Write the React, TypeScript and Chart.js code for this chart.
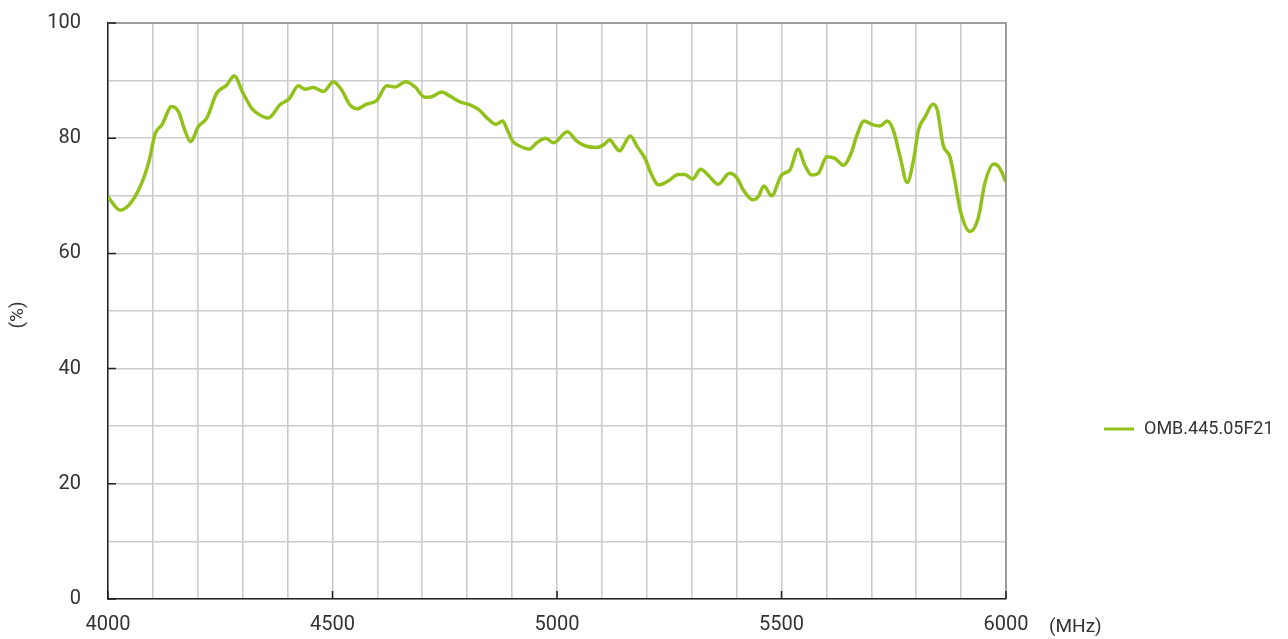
import React, { useEffect, useRef } from "react";
import { Chart, registerables } from "chart.js";

Chart.register(...registerables);

const seriesName = "OMB.445.05F21";
const freqMHz = [
  4000, 4027, 4053, 4079, 4092, 4105, 4120, 4142, 4157, 4171, 4184, 4201, 4220, 4242, 4264, 4281,
  4301, 4320, 4331, 4357, 4383, 4404, 4424, 4439, 4457, 4480, 4502, 4520, 4539, 4554, 4576, 4598,
  4621, 4639, 4663, 4684, 4706, 4721, 4743, 4762, 4784, 4806, 4825, 4847, 4864, 4879, 4888, 4901,
  4918, 4938, 4955, 4975, 4992, 5023, 5044, 5066, 5088, 5103, 5118, 5129, 5140, 5151, 5163, 5179,
  5196, 5211, 5226, 5248, 5270, 5285, 5302, 5320, 5339, 5359, 5384, 5400, 5415, 5436, 5448, 5461,
  5478, 5500, 5519, 5537, 5552, 5567, 5582, 5601, 5619, 5638, 5656, 5667, 5684, 5701, 5719, 5736,
  5749, 5764, 5780, 5794, 5805, 5820, 5837, 5847, 5860, 5875, 5886, 5898, 5920, 5938, 5953, 5973,
  5985, 6000,
];
const efficiency = [
  69.8, 67.5, 69.0, 73.0, 76.2, 80.8, 82.3, 85.5, 84.6, 81.4, 79.4, 82.0, 83.5, 87.8, 89.2, 90.8,
  87.8, 85.2, 84.4, 83.5, 85.8, 86.9, 89.1, 88.5, 88.8, 88.1, 89.8, 88.4, 85.8, 85.1, 85.9, 86.5,
  89.1, 88.9, 89.8, 88.9, 87.1, 87.2, 88.0, 87.3, 86.3, 85.8, 85.0, 83.3, 82.4, 83.0, 81.7, 79.5,
  78.6, 78.1, 79.2, 80.0, 79.2, 81.1, 79.5, 78.6, 78.4, 78.8, 79.7, 78.6, 77.8, 79.1, 80.4, 78.5,
  76.5, 73.6, 71.9, 72.6, 73.7, 73.7, 72.9, 74.6, 73.4, 72.0, 73.9, 73.2, 71.0, 69.3, 69.8, 71.7,
  70.0, 73.6, 74.5, 78.1, 75.3, 73.6, 73.9, 76.8, 76.5, 75.3, 77.6, 80.3, 83.0, 82.4, 82.1, 83.0,
  81.4, 76.8, 72.3, 76.2, 81.4, 83.7, 85.9, 84.9, 78.8, 76.8, 72.7, 67.5, 63.8, 66.1, 72.2, 75.5,
  74.9, 72.4,
];
const yLabelValues = [0, 20, 40, 60, 80, 100];
const xLabelValues = [4000, 4500, 5000, 5500, 6000];
const xUnit = "(MHz)";
const yUnit = "(%)";

const FONT = "Roboto, 'DejaVu Sans', sans-serif";
const LINE_COLOR = "#93c11c";
const TEXT_COLOR = "#333333";

const decorPlugin = {
  id: "decor",
  afterDraw(chart: any) {
    const { ctx, chartArea } = chart;
    const xs = chart.scales.x;
    const ys = chart.scales.y;
    ctx.save();
    ctx.strokeStyle = "#8c8c8c";
    ctx.lineWidth = 1.5;
    ctx.beginPath();
    ctx.moveTo(chartArea.left, chartArea.top);
    ctx.lineTo(chartArea.right, chartArea.top);
    ctx.lineTo(chartArea.right, chartArea.bottom);
    ctx.stroke();
    ctx.strokeStyle = "#222";
    ctx.lineWidth = 1.5;
    ctx.beginPath();
    yLabelValues.forEach((v) => {
      const y = ys.getPixelForValue(v);
      ctx.moveTo(chartArea.left, y);
      ctx.lineTo(chartArea.left + 8, y);
    });
    xLabelValues.forEach((v) => {
      const x = xs.getPixelForValue(v);
      ctx.moveTo(x, chartArea.bottom);
      ctx.lineTo(x, chartArea.bottom - 8);
    });
    ctx.stroke();
    ctx.fillStyle = TEXT_COLOR;
    ctx.font = `19px ${FONT}`;
    ctx.textBaseline = "middle";
    ctx.textAlign = "left";
    ctx.fillText(xUnit, chartArea.right + 43, 627);
    ctx.save();
    ctx.translate(18, (chartArea.top + chartArea.bottom) / 2 + 4);
    ctx.rotate(-Math.PI / 2);
    ctx.textAlign = "center";
    ctx.fillText(yUnit, 0, 0);
    ctx.restore();
    ctx.strokeStyle = LINE_COLOR;
    ctx.lineWidth = 3;
    ctx.beginPath();
    ctx.moveTo(1104, 429);
    ctx.lineTo(1134, 429);
    ctx.stroke();
    ctx.fillStyle = TEXT_COLOR;
    ctx.font = `18px ${FONT}`;
    ctx.textAlign = "left";
    ctx.fillText(chart.data.datasets[0].label, 1144, 429);
    ctx.restore();
  },
};

export default function App() {
  const ref = useRef<HTMLCanvasElement | null>(null);
  useEffect(() => {
    if (!ref.current) return;
    const chart = new Chart(ref.current, {
      type: "line",
      data: {
        datasets: [
          {
            label: seriesName,
            data: freqMHz.map((f, i) => ({ x: f, y: efficiency[i] })),
            borderColor: LINE_COLOR,
            backgroundColor: LINE_COLOR,
            borderWidth: 3.5,
            pointRadius: 0,
            tension: 0.4,
            cubicInterpolationMode: "monotone",
          },
        ],
      },
      options: {
        animation: false,
        responsive: false,
        layout: { padding: { top: 23, right: 282, left: 0, bottom: 0 } },
        plugins: { legend: { display: false }, tooltip: { enabled: false } },
        scales: {
          x: {
            type: "linear",
            min: 4000,
            max: 6000,
            afterFit: (s: any) => {
              s.height = 40;
              s.paddingLeft = 0;
              s.paddingRight = 0;
            },
            border: { color: "#222", width: 1.5 },
            grid: { color: "#cccccc", lineWidth: 1.6, drawTicks: false },
            ticks: {
              stepSize: 100,
              autoSkip: false,
              maxRotation: 0,
              padding: 14,
              color: TEXT_COLOR,
              font: { family: FONT, size: 20 },
              callback: (v: any) => (Number(v) % 500 === 0 ? String(v) : ""),
            },
          },
          y: {
            min: 0,
            max: 100,
            afterFit: (s: any) => {
              s.width = 108;
              s.paddingTop = 0;
              s.paddingBottom = 0;
            },
            border: { color: "#222", width: 1.5 },
            grid: { color: "#cccccc", lineWidth: 1.6, drawTicks: false },
            ticks: {
              stepSize: 10,
              autoSkip: false,
              padding: 27,
              color: TEXT_COLOR,
              font: { family: FONT, size: 20 },
              callback: (v: any) => (Number(v) % 20 === 0 ? String(v) : ""),
            },
          },
        },
      },
      plugins: [decorPlugin],
    } as any);
    return () => chart.destroy();
  }, []);
  return (
    <div style={{ position: "absolute", left: 0, top: 0, width: 1288, height: 639, background: "#fff" }}>
      <canvas ref={ref} width={1288} height={639} style={{ width: 1288, height: 639 }} />
    </div>
  );
}
